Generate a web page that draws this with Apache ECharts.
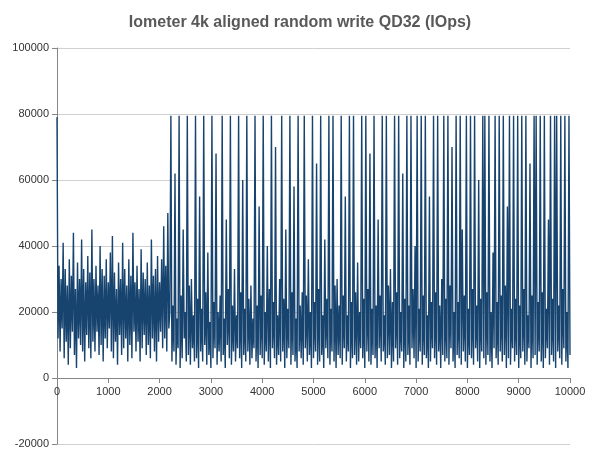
<!DOCTYPE html>
<html><head><meta charset="utf-8">
<script src="https://cdn.jsdelivr.net/npm/echarts@6/dist/echarts.min.js"></script>
<style>html,body{margin:0;padding:0;background:#fff}#c{width:600px;height:459px}</style>
</head><body><div id="c"></div>
<script>
const xStep = 20;
const segBefore = [79000,12000,34000,8000,30000,15000,41000,6000,33000,11000,
28000,4000,36000,9000,31000,14000,44000,7000,27000,3000,
35000,12000,30000,10000,42000,8000,33000,5000,29000,13000,
37000,9000,32000,6000,45000,11000,30000,8000,34000,14000,
28000,7000,40000,10000,33000,5000,31000,12000,36000,9000,
29000,15000,38000,8000,43000,6000,32000,11000,27000,4000,
35000,13000,30000,7000,41000,9000,33000,12000,28000,5000,
36000,10000,31000,6000,44000,14000,29000,8000,34000,11000,
27000,5000,39000,9000,32000,13000,30000,7000,35000,10000,
28000,6000,42000,12000,31000,8000,33000,5000,37000,11000,
29000,14000,36000,9000,46000,12000,34000,8000,50000,15000,20000];
const segAfter = [79500,5000,22000,8000,62000,4000,18000,9000,79500,3000,
25000,6000,45000,12000,20000,5000,79500,7000,28000,4000,
30000,9000,19000,5000,79500,6000,24000,3000,55000,8000,
21000,5000,79500,10000,26000,4000,38000,7000,17000,3000,
79500,6000,23000,9000,68000,4000,20000,8000,25000,5000,
79500,7000,18000,3000,48000,10000,27000,6000,79500,4000,
22000,8000,33000,5000,19000,9000,79500,6000,26000,3000,
60000,7000,21000,5000,79500,8000,24000,4000,28000,6000,
18000,9000,79500,5000,22000,3000,52000,7000,25000,6000,
79500,4000,20000,8000,40000,5000,27000,3000,79500,9000,
23000,6000,70000,4000,19000,7000,30000,5000,79500,8000,
24000,3000,45000,6000,21000,9000,79500,4000,26000,7000,
58000,5000,18000,3000,79500,8000,22000,6000,26000,4000,
79500,9000,25000,5000,36000,7000,20000,3000,79500,6000,
23000,8000,65000,4000,27000,5000,79500,7000,19000,3000,
42000,9000,24000,6000,79500,4000,21000,8000,79500,5000,
28000,3000,30000,7000,22000,6000,79500,4000,25000,9000,
55000,5000,19000,8000,79500,3000,23000,6000,79500,7000,
26000,4000,35000,5000,20000,9000,79500,6000,24000,3000,
79500,8000,27000,5000,68000,4000,21000,7000,79500,6000,
22000,3000,48000,9000,25000,5000,79500,8000,19000,4000,
79500,6000,28000,7000,33000,3000,23000,5000,79500,9000,
26000,4000,79500,6000,20000,8000,62000,3000,24000,5000,
79500,7000,22000,4000,79500,9000,27000,6000,40000,3000,
79500,5000,21000,8000,79500,4000,25000,7000,79500,6000,
19000,3000,55000,5000,23000,9000,79500,6000,26000,4000,
79500,8000,22000,3000,30000,7000,79500,5000,24000,6000,
79500,4000,28000,9000,70000,5000,20000,3000,79500,7000,
23000,6000,79500,4000,45000,8000,25000,5000,79500,3000,
21000,7000,79500,6000,27000,4000,79500,9000,22000,5000,
60000,3000,24000,8000,79500,6000,79500,4000,26000,7000,
79500,5000,20000,3000,38000,9000,79500,6000,23000,4000,
79500,8000,25000,5000,79500,7000,28000,3000,52000,6000,
79500,4000,21000,9000,79500,5000,24000,7000,79500,3000,
22000,6000,79500,8000,27000,4000,79500,5000,19000,9000,
65000,3000,25000,6000,79500,7000,79500,4000,23000,8000,
79500,5000,26000,3000,79500,6000,21000,9000,48000,4000,
79500,7000,24000,5000,79500,3000,79500,8000,22000,6000,
79500,4000,27000,9000,79500,5000,20000,3000,79500,7000];
const ys = segBefore.concat(segAfter);
const data = ys.map((v,i)=>[i*xStep, v]);
const chart = echarts.init(document.getElementById('c'));
const lbl = {color:'#333',fontSize:11,fontFamily:'Liberation Sans',formatter:v=>String(v)};
chart.setOption({
  animation:false,
  title:{text:'Iometer 4k aligned random write QD32 (IOps)',left:'center',top:10,
    textStyle:{fontFamily:'Liberation Sans',fontSize:16,fontWeight:'bold',color:'#595959'}},
  grid:{left:57,right:30,top:48,bottom:15},
  xAxis:{type:'value',min:0,max:10000,interval:1000,offset:-66,
    axisLine:{onZero:false,lineStyle:{color:'#868686'}},axisTick:{show:true,lineStyle:{color:'#868686'}},
    splitLine:{show:false},axisLabel:lbl},
  yAxis:{type:'value',min:-20000,max:100000,interval:20000,
    axisLine:{show:true,lineStyle:{color:'#868686'}},axisTick:{show:true},
    splitLine:{lineStyle:{color:'#d0d0d0'}},axisLabel:lbl},
  series:[{type:'line',data:data,symbol:'none',lineStyle:{width:1.4,color:'#17436f'}}]
});
</script></body></html>
